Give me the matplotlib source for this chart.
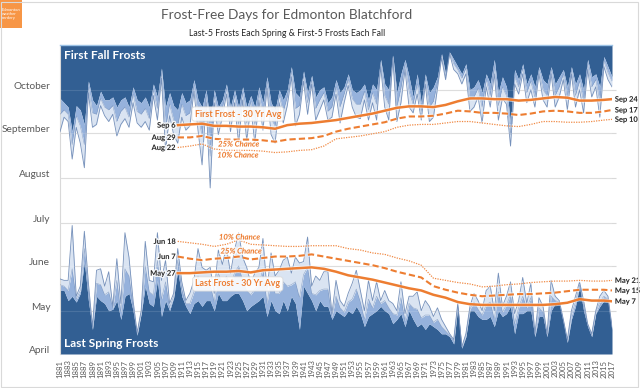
import matplotlib
matplotlib.use('Agg')
import matplotlib.pyplot as plt
import matplotlib.patheffects as pe
from matplotlib.transforms import ScaledTranslation
from matplotlib.patches import Rectangle

plt.rcParams['font.family'] = ['Lato', 'DejaVu Sans']

years = list(range(1881, 2018))

# Fall: day-of-year of first frost (outer edge), middle frost, fifth frost (dark edge)
fall_first = [245, 255, 252, 226, 248, 237, 220, 272, 248, 250,
              263, 256, 252, 257, 242, 250, 254, 248, 265, 251,
              248, 252, 246, 270, 253, 282, 232, 256, 243, 237,
              255, 246, 249, 273, 246, 222, 265, 206, 265, 243,
              255, 271, 245, 265, 237, 267, 239, 262, 237, 267,
              246, 275, 243, 237, 265, 251, 263, 283, 249, 257,
              280, 257, 278, 253,
              260, 267, 253, 255, 271, 251, 265, 277, 262, 255,
              254, 267, 253, 265, 253, 290, 262, 253, 296, 252,
              265, 288, 262, 258, 271, 253, 278, 252, 255, 275,
              296, 281, 299, 288, 285, 278, 285, 259, 262, 269,
              251, 276, 262, 285, 253, 268, 264, 235, 278, 271,
              285, 265, 274, 262, 285, 267, 262, 285, 262, 269,
              281, 260, 285, 262, 274, 258, 288, 269, 276, 255,
              290, 281, 276]
fall_mid = [257, 260, 257, 236, 256, 249, 236, 276, 258, 257,
            268, 262, 260, 263, 252, 259, 262, 255, 271, 259,
            257, 261, 254, 274, 261, 286, 247, 264, 253, 249,
            264, 256, 258, 277, 257, 242, 270, 228, 270, 253,
            261, 275, 254, 270, 250, 272, 251, 266, 250, 272,
            256, 279, 254, 249, 270, 259, 269, 287, 261, 263,
            284, 265, 281, 261,
            267, 272, 259, 262, 276, 262, 271, 281, 268, 264,
            264, 273, 260, 272, 264, 293, 270, 264, 297, 262,
            275, 292, 273, 264, 278, 259, 282, 262, 266, 279,
            298, 283, 300, 292, 288, 282, 289, 267, 269, 275,
            262, 281, 270, 290, 263, 276, 270, 243, 283, 276,
            289, 272, 280, 269, 288, 274, 270, 288, 270, 276,
            285, 268, 288, 270, 280, 266, 292, 276, 281, 266,
            294, 286, 280]
fall_fifth = [268, 265, 262, 245, 263, 260, 250, 280, 267, 263,
              273, 267, 267, 269, 262, 267, 269, 262, 276, 267,
              265, 269, 262, 278, 269, 289, 262, 272, 263, 260,
              272, 265, 267, 281, 267, 262, 274, 251, 274, 262,
              267, 278, 262, 274, 262, 276, 262, 270, 262, 276,
              265, 283, 265, 260, 274, 267, 274, 290, 272, 269,
              287, 272, 284, 269,
              274, 276, 265, 269, 281, 272, 276, 285, 274, 272,
              274, 278, 267, 278, 274, 295, 278, 274, 298, 272,
              285, 295, 283, 269, 285, 265, 285, 272, 276, 283,
              299, 285, 300, 295, 290, 285, 292, 274, 276, 281,
              272, 285, 278, 295, 272, 283, 276, 251, 288, 281,
              292, 278, 285, 276, 290, 281, 278, 290, 278, 283,
              288, 276, 290, 278, 285, 274, 295, 283, 285, 276,
              297, 290, 283]

# Spring: day-of-year of last frost (outer edge), middle frost, fifth-last frost (dark edge)
spring_last = [143, 142, 142, 180, 131, 138, 176, 140, 110, 149,
               150, 138, 148, 124, 157, 126, 175, 158, 128, 106,
               121, 169, 142, 141, 175, 142, 156, 126, 133, 164,
               141, 128, 133, 142, 164, 151, 149, 151, 133, 163,
               153, 165, 147, 163, 175, 158, 151, 140, 147, 151,
               171, 135, 161, 145, 149, 156, 158, 147, 158, 154,
               155, 172, 138, 145,
               142, 148, 148, 119, 142, 128, 124, 133, 140, 149,
               135, 121, 142, 128, 141, 128, 135, 128, 126, 121,
               141, 119, 131, 131, 134, 121, 128, 124, 117, 123,
               115, 110, 105, 101, 126, 96, 105, 124, 133, 128,
               121, 135, 138, 121, 147, 124, 131, 141, 119, 128,
               144, 126, 140, 105, 130, 124, 105, 142, 131, 128,
               115, 101, 121, 131, 141, 128, 112, 105, 121, 131,
               135, 131, 110]
spring_mid = [139, 138, 135, 150, 129, 135, 164, 134, 109, 140,
              139, 132, 134, 123, 142, 120, 150, 145, 124, 105,
              120, 152, 134, 132, 156, 129, 141, 123, 131, 156,
              136, 126, 126, 134, 145, 137, 138, 139, 127, 147,
              140, 145, 139, 147, 152, 142, 135, 132, 136, 139,
              150, 126, 143, 133, 133, 141, 138, 139, 141, 130,
              146, 151, 133, 132,
              135, 136, 136, 117, 131, 123, 120, 127, 129, 136,
              127, 115, 129, 123, 131, 126, 128, 123, 119, 118,
              130, 114, 126, 123, 122, 116, 118, 118, 113, 115,
              110, 107, 104, 100, 125, 96, 104, 122, 127, 122,
              118, 125, 127, 115, 134, 120, 125, 132, 112, 123,
              131, 123, 130, 104, 123, 120, 104, 131, 128, 127,
              114, 100, 118, 127, 139, 124, 111, 104, 120, 127,
              131, 129, 109]
spring_fifth = [135, 135, 128, 131, 127, 133, 155, 128, 108, 131,
                128, 126, 121, 122, 128, 115, 131, 133, 121, 104,
                119, 138, 126, 124, 142, 117, 128, 121, 130, 149,
                131, 124, 119, 126, 128, 124, 128, 128, 121, 133,
                128, 128, 131, 133, 133, 128, 121, 124, 126, 128,
                131, 117, 128, 121, 119, 128, 121, 131, 126, 108,
                138, 133, 128, 121,
                128, 124, 124, 115, 121, 119, 117, 121, 119, 124,
                119, 110, 117, 119, 121, 124, 121, 119, 112, 115,
                119, 110, 121, 115, 110, 112, 108, 112, 110, 108,
                105, 105, 103, 98, 124, 95, 103, 121, 121, 117,
                115, 115, 117, 110, 121, 117, 119, 124, 105, 119,
                119, 121, 121, 103, 117, 117, 103, 121, 126, 126,
                113, 99, 115, 124, 138, 121, 110, 103, 119, 124,
                128, 128, 108]

# 30-year running statistics (read at anchor years)
avg_years = [1910, 1913, 1916, 1919, 1922, 1925, 1928, 1931, 1934, 1937,
             1940, 1943, 1946, 1949, 1952, 1955, 1958, 1961, 1964, 1967,
             1970, 1973, 1976, 1979, 1982, 1985, 1988, 1991, 1994, 1997,
             2000, 2003, 2006, 2009, 2012, 2015, 2017]
fall_avg = [249.5, 250, 250.5, 249, 249, 248.5, 248.5, 248, 247, 249.5,
            250.5, 251, 252, 253, 254.5, 256, 257.5, 259.5, 261.5, 262.5,
            262.5, 262, 263.5, 266, 268, 268, 267.5, 267.5, 266.5, 267,
            268, 269, 268.5, 266.5, 266.5, 267, 267.5]
fall_25 = [241, 241, 242, 240, 239.5, 239.5, 239.5, 239, 238, 239.5,
           240, 240.5, 242, 245, 247, 248.5, 250, 251.5, 254, 255.5,
           255.5, 256, 257.5, 259.5, 259, 258, 258, 257.5, 256.5, 257.5,
           259, 259.5, 259, 258, 258, 259, 260]
fall_10 = [234, 235, 236.5, 233, 232, 232, 232, 231.5, 230.5, 231,
           232, 232.5, 235, 240, 241, 242, 243.5, 245, 248, 249.5,
           250, 250, 251, 252, 252, 251, 250, 249, 248.5, 250,
           252, 252, 251.5, 251.5, 252, 253, 253.5]
spring_avg = [147, 147, 147.5, 148, 148, 148.5, 147.5, 149, 149.5, 150,
              150.5, 151, 150, 148, 145.5, 144, 142.5, 140.5, 138.5, 136.5,
              135, 132, 130, 127, 125.5, 125, 125, 125, 125, 125,
              125, 125.5, 126.5, 129, 128, 128, 127.5]
spring_25 = [158.5, 157, 156, 157, 157.5, 158.5, 156.5, 157.5, 158.5, 158.5,
             159, 160, 158.5, 157, 155.5, 154, 152.5, 150.5, 148, 146,
             144, 138, 135.5, 133.5, 132, 131, 131.5, 132, 132.5, 132.5,
             133, 133.5, 134.5, 135.5, 135.5, 135.5, 135]
spring_10 = [169, 168, 167, 165.5, 167, 170, 167, 166.5, 166, 165.5,
             165.5, 166, 166, 166, 164, 163, 161, 160, 157.5, 155.5,
             152.5, 143.5, 142, 140.5, 139.5, 137.5, 138, 139, 139.5, 140.5,
             141, 141.5, 141.5, 142, 141.5, 141.5, 142]

month_doy = [91, 121, 152, 182, 213, 244, 274]
month_names = ['April', 'May', 'June', 'July', 'August', 'September', 'October']
start_labels_fall = ['Sep 6', 'Aug 29', 'Aug 22']
end_labels_fall = ['Sep 24', 'Sep 17', 'Sep 10']
start_labels_spring = ['May 27', 'Jun 7', 'Jun 18']
end_labels_spring = ['May 7', 'May 15', 'May 21']

DARK = '#325F93'
MID = '#96B2DC'
LIGHT = '#DAE4F2'
EDGE = '#7590BA'
ORANGE = '#ED7D31'
TXT = '#595959'

W, H = 640, 388
fig = plt.figure(figsize=(W / 100, H / 100), dpi=100)
ax = fig.add_axes([60 / W, 1 - 354 / H, 552 / W, 309 / H])
ax.set_xlim(1881, 2017)
ax.set_ylim(91, 305)

# gridlines
ax.hlines(month_doy[1:], 1881, 2017.9, color='#d9d9d9', lw=0.8, zorder=1, clip_on=False)

# fall layers
ax.fill_between(years, fall_fifth, 305, color=DARK, lw=0, zorder=2)
ax.fill_between(years, fall_mid, fall_fifth, color=MID, lw=0, zorder=2)
ax.fill_between(years, fall_first, fall_mid, color=LIGHT, lw=0, zorder=2)
ax.plot(years, fall_first, color=EDGE, lw=0.6, zorder=3)
ax.plot(years, fall_mid, color=EDGE, lw=0.4, alpha=0.7, zorder=3)

# spring layers
ax.fill_between(years, 91, spring_fifth, color=DARK, lw=0, zorder=2)
ax.fill_between(years, spring_fifth, spring_mid, color=MID, lw=0, zorder=2)
ax.fill_between(years, spring_mid, spring_last, color=LIGHT, lw=0, zorder=2)
ax.plot(years, spring_last, color=EDGE, lw=0.6, zorder=3)
ax.plot(years, spring_mid, color=EDGE, lw=0.4, alpha=0.7, zorder=3)

ax.hlines(month_doy[1:], 1881, 2017, color='white', lw=0.8, alpha=0.12, zorder=3)

halo = [pe.withStroke(linewidth=3.0, foreground='white', alpha=0.6)]
ax.plot(avg_years, fall_avg, color=ORANGE, lw=1.8, zorder=5, path_effects=halo)
ax.plot(avg_years, fall_25, color=ORANGE, lw=1.5, ls=(0, (3, 1.5)), zorder=5, path_effects=halo)
ax.plot(avg_years, fall_10, color='#F08A45', lw=0.9, ls=(0, (1, 1)), zorder=5, path_effects=halo)
ax.plot(avg_years, spring_avg, color=ORANGE, lw=1.8, zorder=5, path_effects=halo)
ax.plot(avg_years, spring_25, color=ORANGE, lw=1.5, ls=(0, (3, 1.5)), zorder=5, path_effects=halo)
ax.plot(avg_years, spring_10, color='#F08A45', lw=0.9, ls=(0, (1, 1)), zorder=5, path_effects=halo)

lab_halo = [pe.withStroke(linewidth=2.0, foreground='white', alpha=0.8)]
lab_kw = dict(fontsize=5.4, fontweight='bold', color='#262626', va='center', zorder=6,
              path_effects=lab_halo)
for lbl, ser in zip(start_labels_fall, [fall_avg, fall_25, fall_10]):
    ax.text(avg_years[0] - 0.5, ser[0], lbl, ha='right', **lab_kw)
for lbl, ser in zip(end_labels_fall, [fall_avg, fall_25, fall_10]):
    ax.text(avg_years[-1] + 0.7, ser[-1], lbl, ha='left', clip_on=False, **lab_kw)
for lbl, ser in zip(start_labels_spring, [spring_avg, spring_25, spring_10]):
    ax.text(avg_years[0] - 0.5, ser[0], lbl, ha='right', **lab_kw)
for lbl, ser in zip(end_labels_spring, [spring_avg, spring_25, spring_10]):
    ax.text(avg_years[-1] + 0.7, ser[-1], lbl, ha='left', clip_on=False, **lab_kw)

box = dict(boxstyle='round,pad=0.3', fc='white', ec='#d9d9d9', lw=0.6, alpha=0.9)
ax.text(1924.8, 257.2, 'First Frost - 30 Yr Avg', fontsize=6.3, fontweight='bold',
        color=ORANGE, ha='center', va='center', bbox=box, zorder=7)
ax.text(1924.8, 139.5, 'Last Frost - 30 Yr Avg', fontsize=6.3, fontweight='bold',
        color=ORANGE, ha='center', va='center', bbox=box, zorder=7)
ch_kw = dict(fontsize=5.6, fontstyle='italic', fontweight='bold', color=ORANGE,
             ha='center', va='center', zorder=7, path_effects=lab_halo)
ax.text(1925, 236.4, '25% Chance', **ch_kw)
ax.text(1924.8, 228.8, '10% Chance', **ch_kw)
ax.text(1925.2, 172, '10% Chance', **ch_kw)
ax.text(1925.6, 162.3, '25% Chance', **ch_kw)

ax.text(1882, 297.5, 'First Fall Frosts', fontsize=8.6, fontweight='bold', color='white',
        ha='left', va='center', zorder=7)
ax.text(1882, 98, 'Last Spring Frosts', fontsize=8.6, fontweight='bold', color='white',
        ha='left', va='center', zorder=7)

# axes styling
for s in ['right', 'bottom']:
    ax.spines[s].set_visible(False)
ax.spines['left'].set_color('#d9d9d9')
ax.spines['top'].set_color('#9DC3E6')
ax.spines['top'].set_linewidth(1.0)
ax.set_xticks(years[::2])
ax.set_xticklabels([str(y) for y in years[::2]], rotation=90, fontsize=5.6, color=TXT)
ax.set_yticks(month_doy)
ax.set_yticklabels(month_names, fontsize=7.3, color=TXT)
ax.tick_params(axis='both', length=0)
ax.tick_params(axis='y', pad=7)
ax.tick_params(axis='x', pad=4)
off = ScaledTranslation(0, 3 / 72, fig.dpi_scale_trans)
for t in ax.get_yticklabels():
    t.set_transform(t.get_transform() + off)

fig.text(287 / W, 1 - 15 / H, 'Frost-Free Days for Edmonton Blatchford', fontsize=9.8,
         color=TXT, ha='center', va='center')
fig.text(287 / W, 1 - 33 / H, 'Last-5 Frosts Each Spring & First-5 Frosts Each Fall',
         fontsize=6.3, color='#262626', ha='center', va='center')

# logo box
fig.patches.append(Rectangle((0, 1 - 28 / H), 22 / W, 28 / H, transform=fig.transFigure,
                             fc='#F79646', ec='none'))
fig.text(1.5 / W, 1 - 14 / H, 'Edmonton\nweather\nnerdery', fontsize=3.0, color='white',
         ha='left', va='center', linespacing=1.1)
# outer border
fig.patches.append(Rectangle((0.5 / W, 1.5 / H), 637 / W, 385 / H, transform=fig.transFigure,
                             fc='none', ec='#d9d9d9', lw=0.8))

fig.savefig('out.png', dpi=100)
